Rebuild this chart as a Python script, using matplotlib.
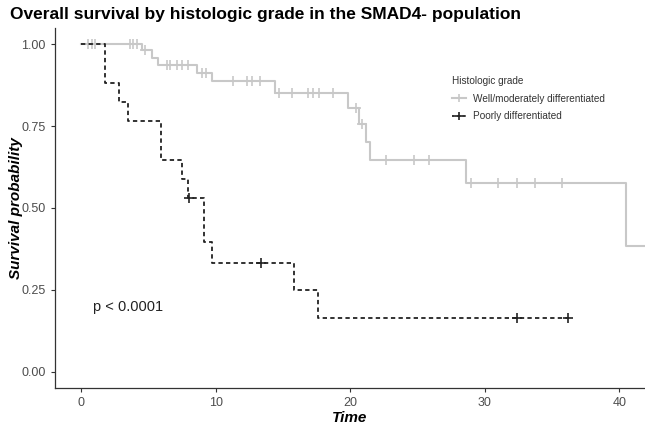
import matplotlib
matplotlib.use("Agg")
import matplotlib.pyplot as plt
import numpy as np
from matplotlib.lines import Line2D

plt.rcParams['font.family'] = ['Liberation Sans', 'DejaVu Sans']

# ---- data ----
well_times = [0, 4.51, 5.25, 5.72, 8.64, 9.71, 14.4, 19.86, 20.68, 21.17, 21.47, 28.6, 40.47]
well_surv = [1.0, 0.982, 0.958, 0.935, 0.911, 0.887, 0.852, 0.804, 0.756, 0.700, 0.646, 0.575, 0.383]
well_end = 43.0
well_censor = [0.54, 0.79, 1.04, 3.64, 3.89, 4.18, 4.75, 6.37, 6.61, 7.11, 7.48, 7.97,
               8.97, 9.29, 11.3, 12.31, 12.68, 13.3, 14.73, 15.65, 16.89, 17.26, 17.7,
               18.7, 20.43, 20.85, 22.66, 24.76, 25.88, 29.0, 31.0, 32.4, 33.7, 35.7]

poor_times = [0, 1.78, 2.82, 3.47, 5.94, 7.53, 7.97, 9.14, 9.76, 15.8, 17.6]
poor_surv = [1.0, 0.882, 0.824, 0.765, 0.647, 0.588, 0.529, 0.397, 0.331, 0.248, 0.165]
poor_end = 36.2
poor_censor = [8.05, 13.4, 32.4, 36.2]

group_labels = ["Well/moderately differentiated", "Poorly differentiated"]
x_ticks = [0, 10, 20, 30, 40]
y_ticks = [0.00, 0.25, 0.50, 0.75, 1.00]
title = "Overall survival by histologic grade in the SMAD4- population"
pval_text = "p < 0.0001"

gray = "#c8c8c8"
black = "#222222"


def surv_at(times, surv, t):
    idx = np.searchsorted(times, t, side='right') - 1
    return np.asarray(surv)[idx]


fig = plt.figure(figsize=(6.45, 4.25), dpi=100)
ax = fig.add_axes([0.0848, 0.0868, 0.9152, 0.848])

# well/moderately
wx = well_times + [well_end]
wy = well_surv + [well_surv[-1]]
ax.step(wx, wy, where='post', color=gray, lw=1.5, zorder=2)
ax.plot(well_censor, surv_at(well_times, well_surv, well_censor), ls='none',
        marker='+', ms=6.5, mew=1.2, color=gray, zorder=3)

# poorly
px_ = poor_times + [poor_end]
py_ = poor_surv + [poor_surv[-1]]
ax.step(px_, py_, where='post', color=black, lw=1.3, ls=(0, (2.4, 1.8)), zorder=4)
ax.plot(poor_censor, surv_at(poor_times, poor_surv, poor_censor), ls='none',
        marker='+', ms=6.5, mew=1.2, color=black, zorder=5)

ax.set_xlim(-1.95, 41.9)
ax.set_ylim(-0.05, 1.05)
ax.set_xticks(x_ticks)
ax.set_yticks(y_ticks)
ax.set_yticklabels([f"{v:.2f}" for v in y_ticks])
ax.tick_params(axis='both', labelsize=9, colors='#4d4d4d', length=3, width=0.8)
ax.tick_params(axis='both', color='#333333')
for s in ['top', 'right']:
    ax.spines[s].set_visible(False)
for s in ['left', 'bottom']:
    ax.spines[s].set_color('#333333')
    ax.spines[s].set_linewidth(0.9)

ax.set_xlabel("Time", fontsize=11, fontweight='bold', fontstyle='italic', labelpad=1)
ax.set_ylabel("Survival probability", fontsize=11, fontweight='bold', fontstyle='italic')
ax.yaxis.set_label_coords(-0.054, 0.5)

ax.text(0.9, 0.197, pval_text, fontsize=10.5, ha='left', va='center', color='#222222')

fig.text(0.016, 0.967, title, fontsize=12.5, fontweight='bold', ha='left', va='center')

handles = [
    Line2D([0], [0], color=gray, lw=1.5, marker='+', ms=6, mew=1.2),
    Line2D([0], [0], color=black, lw=1.3, ls=(0, (1.6, 1.4)), marker='+', ms=6, mew=1.2),
]
leg = fig.legend(handles, group_labels, title="Histologic grade", loc='upper left',
                 bbox_to_anchor=(450 / 645, 1 - 74 / 425), frameon=False,
                 fontsize=7.2, title_fontsize=7.2, handlelength=1.4,
                 handletextpad=0.7, labelspacing=0.75, borderaxespad=0, borderpad=0.2)
leg._legend_box.align = "left"
leg.get_title().set_color('#333333')
for t in leg.get_texts():
    t.set_color('#333333')

fig.savefig("out.png", dpi=100)
